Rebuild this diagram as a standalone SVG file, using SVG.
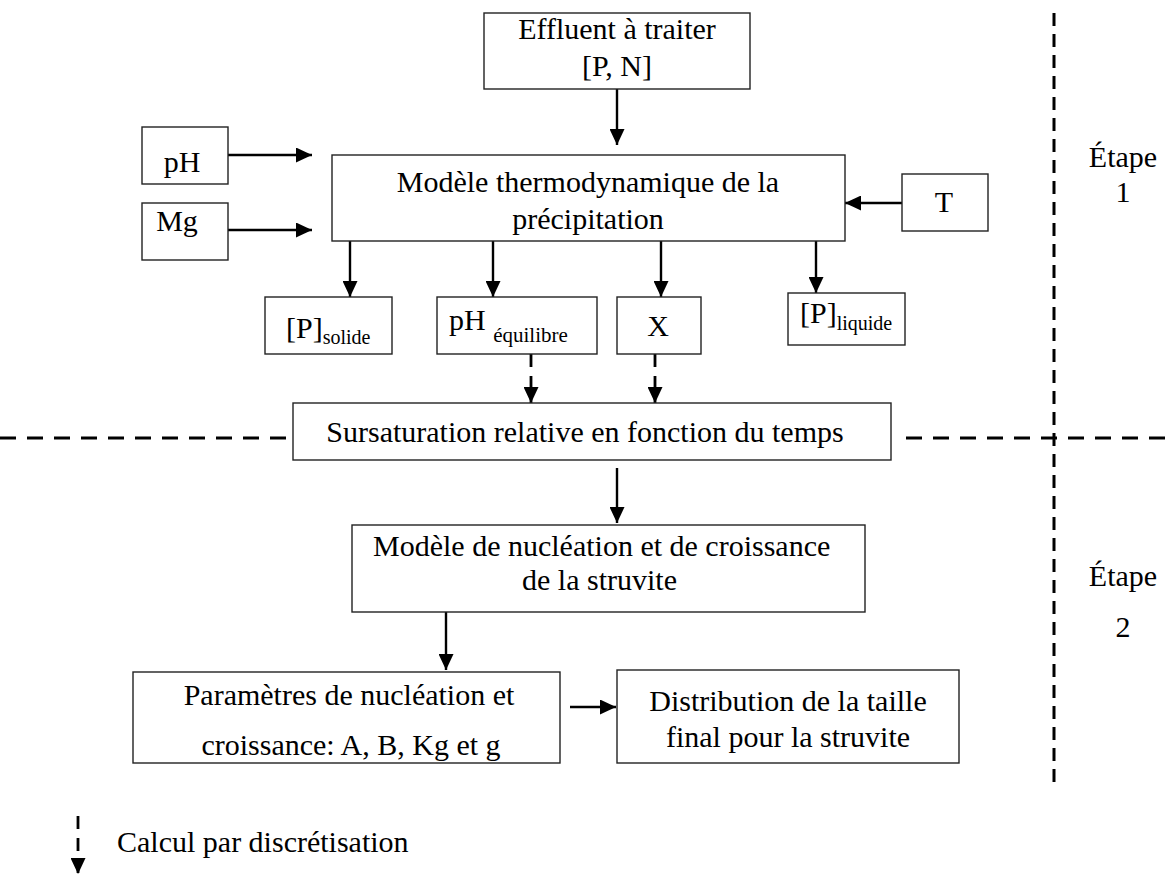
<svg xmlns="http://www.w3.org/2000/svg" width="1169" height="875" viewBox="0 0 1169 875">
<style>
.box{fill:#fff;stroke:#222;stroke-width:1.4}
text{font-family:"Liberation Serif","Times New Roman",serif;font-size:30px;fill:#000}
.c{text-anchor:middle}
.arr{stroke:#000;stroke-width:2.4;fill:none}
.darr{stroke:#000;stroke-width:2.8;fill:none;stroke-dasharray:13 9}
.sep{stroke:#000;stroke-width:3;fill:none}
</style>
<defs>
<marker id="ah" markerWidth="16" markerHeight="15" refX="16" refY="7.5" orient="auto" markerUnits="userSpaceOnUse"><path d="M0,0 L16,7.5 L0,15 Z" fill="#000"/></marker>
</defs>
<g id="separators">
<line class="sep" x1="1054" y1="13" x2="1054" y2="790" stroke-dasharray="13 8"/>
<line class="sep" x1="0" y1="438" x2="293" y2="438" stroke-dasharray="16 11"/>
<line class="sep" x1="906" y1="438" x2="1169" y2="438" stroke-dasharray="16 11"/>
</g>
<g id="connectors">
<line class="arr" x1="617" y1="89" x2="617" y2="145" marker-end="url(#ah)"/>
<line class="arr" x1="228" y1="155" x2="312" y2="155" marker-end="url(#ah)"/>
<line class="arr" x1="228" y1="230" x2="312" y2="230" marker-end="url(#ah)"/>
<line class="arr" x1="902" y1="203" x2="845" y2="203" marker-end="url(#ah)"/>
<line class="arr" x1="350" y1="241" x2="350" y2="297" marker-end="url(#ah)"/>
<line class="arr" x1="493" y1="241" x2="493" y2="297" marker-end="url(#ah)"/>
<line class="arr" x1="661" y1="241" x2="661" y2="297" marker-end="url(#ah)"/>
<line class="arr" x1="816" y1="241" x2="816" y2="293" marker-end="url(#ah)"/>
<line class="darr" x1="531" y1="354" x2="531" y2="403" marker-end="url(#ah)"/>
<line class="darr" x1="655" y1="354" x2="655" y2="403" marker-end="url(#ah)"/>
<line class="arr" x1="617" y1="468" x2="617" y2="523" marker-end="url(#ah)"/>
<line class="arr" x1="446" y1="612" x2="446" y2="670" marker-end="url(#ah)"/>
<line class="arr" x1="570" y1="707" x2="616" y2="707" marker-end="url(#ah)"/>
</g>
<g id="effluent"><rect class="box" x="484" y="13" width="266" height="76"/><text class="c" x="617" y="39">Effluent à traiter</text><text class="c" x="617" y="76">[P, N]</text></g>
<g id="ph"><rect class="box" x="142" y="127" width="86" height="57"/><text class="c" x="182" y="172">pH</text></g>
<g id="mg"><rect class="box" x="142" y="203" width="86" height="57"/><text class="c" x="177" y="231">Mg</text></g>
<g id="thermo"><rect class="box" x="332" y="155" width="513" height="86"/><text class="c" x="588" y="192">Modèle thermodynamique de la</text><text class="c" x="588" y="229">précipitation</text></g>
<g id="t"><rect class="box" x="902" y="174" width="86" height="57"/><text class="c" x="944" y="212">T</text></g>
<g id="psolide"><rect class="box" x="265" y="297" width="127" height="57"/><text x="286" y="338">[P]<tspan font-size="20" dy="6">solide</tspan></text></g>
<g id="pheq"><rect class="box" x="437" y="297" width="160" height="57"/><text x="449" y="330">pH <tspan font-size="21" dy="12">équilibre</tspan></text></g>
<g id="x"><rect class="box" x="617" y="297" width="84" height="57"/><text class="c" x="658" y="336">X</text></g>
<g id="pliquide"><rect class="box" x="788" y="293" width="117" height="52"/><text x="800" y="323">[P]<tspan font-size="20" dy="7">liquide</tspan></text></g>
<g id="sursat"><rect class="box" x="293" y="403" width="598" height="57"/><text class="c" x="585" y="442">Sursaturation relative en fonction du temps</text></g>
<g id="nucleation"><rect class="box" x="352" y="525" width="513" height="87"/><text x="373" y="556">Modèle de nucléation et de croissance</text><text x="522" y="590">de la struvite</text></g>
<g id="parametres"><rect class="box" x="133" y="672" width="427" height="91"/><text class="c" x="349" y="705">Paramètres de nucléation et</text><text class="c" x="351" y="755">croissance: A, B, Kg et g</text></g>
<g id="distribution"><rect class="box" x="617" y="670" width="342" height="93"/><text class="c" x="788" y="711">Distribution de la taille</text><text class="c" x="788" y="747">final pour la struvite</text></g>
<g id="etapes"><text class="c" x="1123" y="167">Étape</text><text class="c" x="1123" y="202">1</text><text class="c" x="1123" y="586">Étape</text><text class="c" x="1123" y="637">2</text></g>
<g id="legend"><line class="darr" x1="78" y1="816" x2="78" y2="874" stroke-dasharray="11 9" marker-end="url(#ah)"/><text x="117" y="852">Calcul par discrétisation</text></g>
</svg>
